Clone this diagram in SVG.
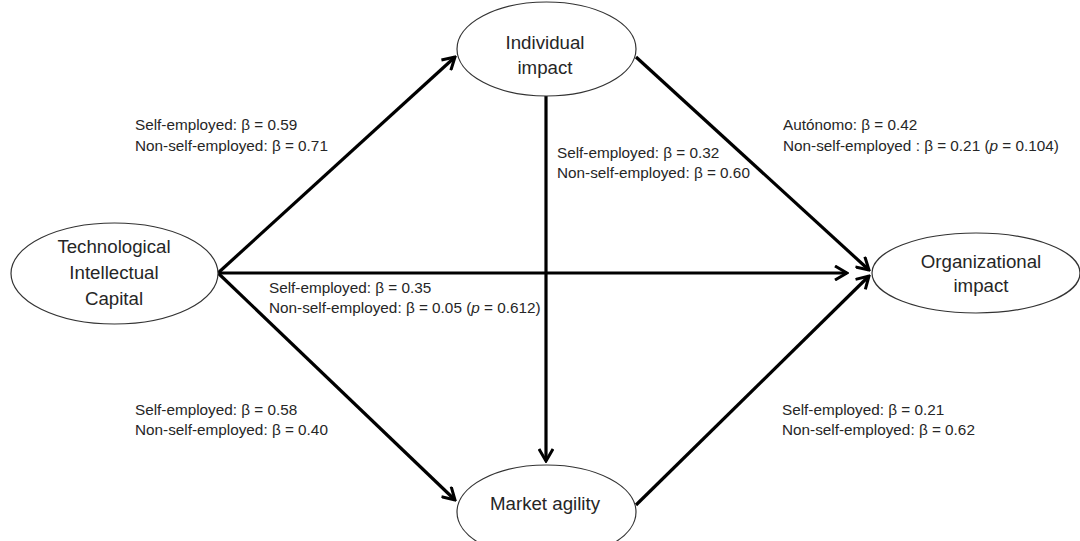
<svg xmlns="http://www.w3.org/2000/svg" width="1080" height="541" viewBox="0 0 1080 541">
  <style>
    .node ellipse { fill: #ffffff; stroke: #333333; stroke-width: 1.2; }
    .node text { font-family: "Liberation Sans", Arial, sans-serif; font-size: 18.7px; fill: #262626; text-anchor: middle; }
    .conn line { stroke: #000000; stroke-width: 3.2; fill: none; }
    .lbl { font-family: "Liberation Sans", Arial, sans-serif; font-size: 15.3px; fill: #262626; }
    .it { font-style: italic; }
  </style>
  <defs>
    <marker id="arr" viewBox="0 0 16 16" refX="14" refY="8" markerWidth="16" markerHeight="16" markerUnits="userSpaceOnUse" orient="auto">
      <path d="M2,1 L14,8 L2,15" fill="none" stroke="#000000" stroke-width="3" stroke-linejoin="miter"/>
    </marker>
  </defs>
  <rect width="1080" height="541" fill="#ffffff"/>

  <g id="connectors" class="conn">
    <line x1="218" y1="273" x2="455" y2="57" marker-end="url(#arr)"/>
    <line x1="218" y1="273" x2="847" y2="273" marker-end="url(#arr)"/>
    <line x1="218" y1="273" x2="455" y2="500" marker-end="url(#arr)"/>
    <line x1="636" y1="57" x2="869" y2="270" marker-end="url(#arr)"/>
    <line x1="636" y1="505" x2="869" y2="276" marker-end="url(#arr)"/>
    <line x1="546" y1="96" x2="546" y2="461" marker-end="url(#arr)"/>
  </g>

  <g id="node-tic" class="node">
    <ellipse cx="114.5" cy="273.5" rx="103.5" ry="50.5"/>
    <text x="114" y="253">Technological</text>
    <text x="114" y="279">Intellectual</text>
    <text x="114" y="305">Capital</text>
  </g>
  <g id="node-individual" class="node">
    <ellipse cx="546.5" cy="49" rx="89.5" ry="47"/>
    <text x="545" y="49">Individual</text>
    <text x="545" y="74">impact</text>
  </g>
  <g id="node-organizational" class="node">
    <ellipse cx="976" cy="273" rx="104" ry="40"/>
    <text x="981" y="268">Organizational</text>
    <text x="981" y="292">impact</text>
  </g>
  <g id="node-market" class="node">
    <ellipse cx="546.5" cy="512" rx="89.5" ry="47"/>
    <text x="545" y="510">Market agility</text>
  </g>

  <g id="labels">
    <text class="lbl" x="135" y="130">Self-employed: β = 0.59</text>
    <text class="lbl" x="135" y="151">Non-self-employed: β = 0.71</text>

    <text class="lbl" x="557" y="158">Self-employed: β = 0.32</text>
    <text class="lbl" x="557" y="178">Non-self-employed: β = 0.60</text>

    <text class="lbl" x="783" y="130">Autónomo: β = 0.42</text>
    <text class="lbl" x="783" y="151">Non-self-employed : β = 0.21 (<tspan class="it">p</tspan> = 0.104)</text>

    <text class="lbl" x="269" y="293">Self-employed: β = 0.35</text>
    <text class="lbl" x="269" y="313">Non-self-employed: β = 0.05 (<tspan class="it">p</tspan> = 0.612)</text>

    <text class="lbl" x="135" y="415">Self-employed: β = 0.58</text>
    <text class="lbl" x="135" y="435">Non-self-employed: β = 0.40</text>

    <text class="lbl" x="782" y="415">Self-employed: β = 0.21</text>
    <text class="lbl" x="782" y="435">Non-self-employed: β = 0.62</text>
  </g>
</svg>
